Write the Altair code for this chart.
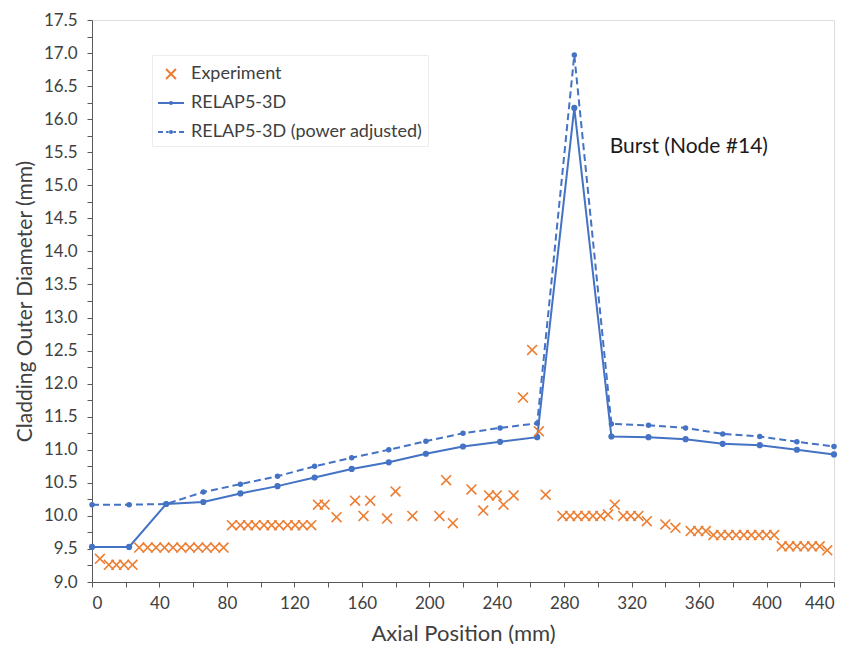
import altair as alt
import pandas as pd

# RELAP5-3D node positions (mm)
node_x = [0, 22, 44, 66, 88, 110, 132, 154, 176, 198, 220, 242, 264, 286,
          308, 330, 352, 374, 396, 418, 440]
relap_y = [9.53, 9.53, 10.18, 10.21, 10.34, 10.45, 10.58, 10.71, 10.81, 10.94,
           11.05, 11.12, 11.19, 16.17, 11.20, 11.19, 11.16, 11.09, 11.07, 11.00, 10.93]
adj_y = [10.17, 10.17, 10.18, 10.36, 10.48, 10.60, 10.75, 10.88, 11.00, 11.13,
         11.25, 11.33, 11.40, 16.97, 11.39, 11.37, 11.33, 11.24, 11.20, 11.12, 11.05]

# Experiment
exp_x = [4.7, 10, 14.5, 19, 24,
         28, 33, 38, 43, 48, 53, 58, 63, 68, 73, 78,
         83, 88, 92.5, 97, 102, 106.5, 111, 116, 120.5, 125, 130,
         134, 138, 145, 156, 161, 165, 175, 180, 190, 206, 210, 214,
         225, 232, 235.5, 240, 244, 250, 255.6, 261, 265, 269,
         279, 283.5, 288, 292.5, 297, 301.5, 306, 310, 315, 319.5, 324, 329,
         340, 346, 355, 359.5, 364,
         368.5, 373, 377.5, 382, 386.5, 391, 395.5, 400, 404.5,
         409, 413.5, 418, 422.5, 427, 431.5, 436]
exp_y = [9.35, 9.26, 9.26, 9.26, 9.26,
         9.52, 9.52, 9.52, 9.52, 9.52, 9.52, 9.52, 9.52, 9.52, 9.52, 9.52,
         9.86, 9.86, 9.86, 9.86, 9.86, 9.86, 9.86, 9.86, 9.86, 9.86, 9.86,
         10.17, 10.17, 9.98, 10.23, 10.00, 10.23, 9.96, 10.37, 10.00, 10.00, 10.54, 9.89,
         10.40, 10.08, 10.31, 10.31, 10.17, 10.31, 11.79, 12.51, 11.28, 10.32,
         10.00, 10.00, 10.00, 10.00, 10.00, 10.00, 10.02, 10.17, 10.00, 10.00, 10.00, 9.92,
         9.87, 9.82, 9.77, 9.77, 9.77,
         9.71, 9.71, 9.71, 9.71, 9.71, 9.71, 9.71, 9.71, 9.71,
         9.54, 9.54, 9.54, 9.54, 9.54, 9.54, 9.48]

series_names = ["Experiment", "RELAP5-3D", "RELAP5-3D (power adjusted)"]
annot_text = ["Burst (Node #14)"]
annot_x = [307]
annot_y = [15.58]

x_ticks = list(range(0, 441, 20))
y_ticks = [9.0 + 0.25 * i for i in range(35)]

BLUE = "#4472C4"
ORANGE = "#ED7D31"
FONT = "Lato"
TXT = "#404040"

df_relap = pd.DataFrame({"x": node_x, "y": relap_y})
df_adj = pd.DataFrame({"x": node_x, "y": adj_y})
df_exp = pd.DataFrame({"x": exp_x, "y": exp_y, "series": "Experiment"})
df_txt = pd.DataFrame({"x": annot_x, "y": annot_y, "t": annot_text})

xscale = alt.Scale(domain=[0, 440], nice=False, zero=False)
yscale = alt.Scale(domain=[9.0, 17.5], nice=False, zero=False)

xenc = alt.X("x:Q", scale=xscale, axis=alt.Axis(
    values=x_ticks, title="Axial Position (mm)",
    labelExpr="datum.value % 40 == 0 ? datum.label : ''",
    grid=False, tickSize=5, labelPadding=8, titlePadding=12,
    labelFontSize=17, titleFontSize=22, labelFont=FONT, titleFont=FONT,
    labelColor=TXT, titleColor=TXT, titleFontWeight="normal",
    domainColor="#595959", tickColor="#595959"))
yenc = alt.Y("y:Q", scale=yscale, axis=alt.Axis(
    values=y_ticks, title="Cladding Outer Diameter (mm)",
    labelExpr="(round(datum.value*100) % 50 == 0) ? format(datum.value, '.1f') : ''",
    grid=False, tickSize=5, labelPadding=10, titlePadding=8,
    labelFontSize=17, titleFontSize=21, labelFont=FONT, titleFont=FONT,
    labelColor=TXT, titleColor=TXT, titleFontWeight="normal",
    domainColor="#595959", tickColor="#595959"))

x_path = "M-0.38,-0.38L0.38,0.38M-0.38,0.38L0.38,-0.38"
dot = "M-0.08,0A0.08,0.08,0,1,0,0.08,0A0.08,0.08,0,1,0,-0.08,0Z"
solid_path = "M-1,0L1,0" + dot
dash_path = "M-1,0L-0.62,0M-0.38,0L-0.18,0M0.18,0L0.38,0M0.62,0L1,0" + dot

line_solid = alt.Chart(df_relap).mark_line(color=BLUE, strokeWidth=2).encode(x=xenc, y=yenc)
pts_solid = alt.Chart(df_relap).mark_circle(color=BLUE, size=38, opacity=1).encode(x=xenc, y=yenc)
line_adj = alt.Chart(df_adj).mark_line(color=BLUE, strokeWidth=2, strokeDash=[7, 4]).encode(x=xenc, y=yenc)
pts_adj = alt.Chart(df_adj).mark_circle(color=BLUE, size=30, opacity=1).encode(x=xenc, y=yenc)

legend = alt.Legend(title=None, orient="none", legendX=60, legendY=35,
                    symbolSize=676, symbolStrokeWidth=2, symbolOpacity=1,
                    labelFont=FONT, labelFontSize=18, labelColor=TXT, labelLimit=0,
                    labelOffset=6, rowPadding=6, padding=5,
                    strokeColor="#ececec", fillColor="white")

exp_pts = alt.Chart(df_exp).mark_point(filled=False, size=676, strokeWidth=1.6, opacity=1).encode(
    x=xenc, y=yenc,
    color=alt.Color("series:N", scale=alt.Scale(domain=series_names, range=[ORANGE, BLUE, BLUE]), legend=legend),
    shape=alt.Shape("series:N", scale=alt.Scale(domain=series_names, range=[x_path, solid_path, dash_path]), legend=legend),
)

txt = alt.Chart(df_txt).mark_text(align="left", baseline="middle", font=FONT, fontSize=21, color="#1a1a1a").encode(
    x=xenc, y=yenc, text="t:N")

chart = alt.layer(line_adj, pts_adj, line_solid, pts_solid, exp_pts, txt).properties(
    width=742, height=562,
    autosize=alt.AutoSizeParams(type="none"),
    padding={"left": 84, "top": 12, "right": 10, "bottom": 70},
).configure_view(stroke=None).configure(background="white")

chart.save("out.html", embed_options={"renderer": "svg", "actions": False})
